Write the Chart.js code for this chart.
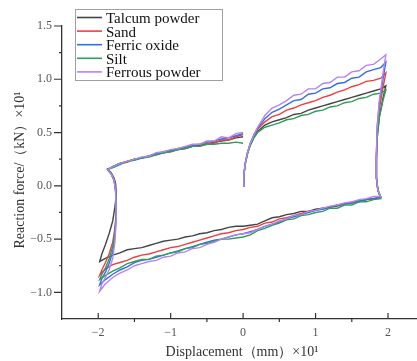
<!DOCTYPE html>
<html>
<head>
<meta charset="utf-8">
<script src="https://cdn.jsdelivr.net/npm/chart.js@4.4.0/dist/chart.umd.min.js"></script>
<style>
html, body { margin: 0; padding: 0; background: #fff; }
#wrap { width: 417px; height: 361px; }
</style>
</head>
<body>
<div id="wrap"><canvas id="chart" width="417" height="361"></canvas></div>
<script>
// displacement path of one cycle (x10 mm)
const dispLoad = [0, 0.01, 0.03, 0.06, 0.1, 0.15, 0.2, 0.3, 0.4, 0.5, 0.6, 0.7, 0.8, 0.9, 1.0, 1.1, 1.2, 1.3, 1.4, 1.5, 1.6, 1.7, 1.8, 1.9, 1.97];
const dispUnload = [1.93, 1.88, 1.85, 1.84, 1.84, 1.86, 1.9];
const dispBottom = [1.8, 1.7, 1.6, 1.5, 1.4, 1.3, 1.2, 1.1, 1.0, 0.9, 0.8, 0.7, 0.6, 0.5, 0.4, 0.3, 0.2, 0.1, 0.0,
    -0.1, -0.2, -0.3, -0.4, -0.5, -0.6, -0.7, -0.8, -0.9, -1.0, -1.1, -1.2, -1.3, -1.4, -1.5, -1.6, -1.7, -1.8, -1.9, -1.98];
const dispRise = [-1.95, -1.9, -1.85, -1.8, -1.77, -1.75, -1.76, -1.78, -1.82, -1.87];
const dispReturn = [-1.8, -1.7, -1.6, -1.5, -1.4, -1.3, -1.2, -1.1, -1.0, -0.9, -0.8, -0.7, -0.6, -0.5, -0.4, -0.3, -0.2, -0.1, 0.0];
const displacement = [].concat(dispLoad, dispUnload, dispBottom, dispRise, dispReturn);

// reaction force (x10 kN), same order as displacement
const talcum = [
    0, 0.10, 0.21, 0.30, 0.39, 0.46, 0.51, 0.57, 0.60, 0.62, 0.64, 0.67, 0.68, 0.71, 0.73, 0.75, 0.77, 0.79, 0.81, 0.83, 0.85, 0.87, 0.89, 0.91, 0.94,
    0.82, 0.65, 0.45, 0.25, 0.07, -0.04, -0.11,
    -0.12, -0.13, -0.15, -0.16, -0.17, -0.19, -0.20, -0.21, -0.22, -0.24, -0.24, -0.26, -0.27, -0.29, -0.30, -0.33, -0.36, -0.37, -0.38,
    -0.38, -0.39, -0.41, -0.42, -0.44, -0.45, -0.47, -0.48, -0.50, -0.51, -0.52, -0.54, -0.56, -0.58, -0.59, -0.60, -0.63, -0.65, -0.68, -0.71,
    -0.64, -0.55, -0.45, -0.33, -0.20, -0.08, 0.02, 0.07, 0.12, 0.15,
    0.18, 0.21, 0.23, 0.25, 0.26, 0.28, 0.30, 0.31, 0.33, 0.34, 0.35, 0.37, 0.38, 0.39, 0.41, 0.42, 0.43, 0.45, 0.46
];
const sand = [
    0, 0.10, 0.21, 0.31, 0.40, 0.47, 0.53, 0.60, 0.65, 0.67, 0.71, 0.73, 0.76, 0.78, 0.80, 0.83, 0.85, 0.88, 0.90, 0.93, 0.95, 0.98, 0.99, 1.01, 1.06,
    0.92, 0.72, 0.50, 0.28, 0.08, -0.04, -0.11,
    -0.12, -0.13, -0.15, -0.16, -0.17, -0.18, -0.20, -0.21, -0.23, -0.24, -0.26, -0.28, -0.30, -0.31, -0.34, -0.35, -0.38, -0.39, -0.41,
    -0.42, -0.44, -0.45, -0.47, -0.49, -0.51, -0.53, -0.55, -0.57, -0.58, -0.60, -0.62, -0.64, -0.65, -0.67, -0.70, -0.72, -0.74, -0.78, -0.84,
    -0.79, -0.72, -0.64, -0.53, -0.40, -0.24, -0.04, 0.05, 0.11, 0.15,
    0.18, 0.21, 0.22, 0.25, 0.26, 0.28, 0.29, 0.31, 0.32, 0.34, 0.35, 0.37, 0.37, 0.40, 0.40, 0.43, 0.43, 0.46, 0.48
];
const ferricOxide = [
    0, 0.10, 0.21, 0.31, 0.40, 0.48, 0.54, 0.63, 0.69, 0.72, 0.76, 0.80, 0.81, 0.86, 0.87, 0.91, 0.92, 0.96, 0.97, 1.01, 1.02, 1.07, 1.09, 1.11, 1.16,
    1.00, 0.78, 0.55, 0.30, 0.08, -0.04, -0.11,
    -0.12, -0.13, -0.14, -0.16, -0.17, -0.18, -0.20, -0.22, -0.23, -0.25, -0.27, -0.29, -0.31, -0.34, -0.36, -0.38, -0.41, -0.43, -0.45,
    -0.46, -0.48, -0.50, -0.51, -0.53, -0.55, -0.57, -0.59, -0.61, -0.63, -0.65, -0.67, -0.69, -0.70, -0.72, -0.76, -0.79, -0.83, -0.88, -0.93,
    -0.87, -0.81, -0.73, -0.62, -0.47, -0.28, -0.05, 0.05, 0.11, 0.15,
    0.18, 0.21, 0.23, 0.25, 0.26, 0.28, 0.30, 0.32, 0.33, 0.35, 0.36, 0.38, 0.39, 0.41, 0.42, 0.44, 0.45, 0.47, 0.49
];
const silt = [
    0, 0.10, 0.21, 0.30, 0.38, 0.45, 0.50, 0.55, 0.57, 0.59, 0.62, 0.63, 0.66, 0.67, 0.70, 0.71, 0.74, 0.75, 0.78, 0.79, 0.82, 0.83, 0.86, 0.87, 0.90,
    0.80, 0.64, 0.45, 0.25, 0.07, -0.04, -0.12,
    -0.13, -0.15, -0.15, -0.18, -0.18, -0.21, -0.21, -0.24, -0.25, -0.27, -0.28, -0.31, -0.32, -0.35, -0.37, -0.40, -0.42, -0.46, -0.48,
    -0.49, -0.50, -0.50, -0.52, -0.54, -0.55, -0.58, -0.59, -0.62, -0.63, -0.65, -0.66, -0.69, -0.69, -0.71, -0.73, -0.77, -0.80, -0.84, -0.88,
    -0.83, -0.77, -0.69, -0.57, -0.43, -0.26, -0.04, 0.05, 0.12, 0.16,
    0.17, 0.20, 0.23, 0.24, 0.26, 0.27, 0.29, 0.31, 0.32, 0.34, 0.35, 0.37, 0.37, 0.39, 0.39, 0.40, 0.40, 0.41, 0.40
];
const ferrousPowder = [
    0, 0.10, 0.21, 0.31, 0.40, 0.48, 0.55, 0.66, 0.73, 0.76, 0.80, 0.85, 0.86, 0.91, 0.91, 0.96, 0.97, 1.02, 1.02, 1.07, 1.08, 1.13, 1.14, 1.19, 1.23,
    1.05, 0.80, 0.55, 0.30, 0.08, -0.04, -0.10,
    -0.10, -0.12, -0.13, -0.15, -0.16, -0.18, -0.19, -0.21, -0.23, -0.24, -0.27, -0.28, -0.31, -0.33, -0.36, -0.38, -0.41, -0.44, -0.45,
    -0.46, -0.48, -0.50, -0.53, -0.55, -0.58, -0.59, -0.62, -0.63, -0.66, -0.67, -0.70, -0.71, -0.73, -0.75, -0.79, -0.82, -0.86, -0.92, -0.99,
    -0.92, -0.86, -0.79, -0.68, -0.53, -0.30, -0.05, 0.05, 0.11, 0.15,
    0.18, 0.21, 0.23, 0.25, 0.27, 0.28, 0.31, 0.32, 0.34, 0.35, 0.37, 0.39, 0.39, 0.42, 0.42, 0.46, 0.45, 0.49, 0.50
];

const seriesNames = ['Talcum powder', 'Sand', 'Ferric oxide', 'Silt', 'Ferrous powder'];
const seriesColors = ['#454545', '#f03e3e', '#2f6fe8', '#2e9e58', '#b683f2'];
const seriesValues = [talcum, sand, ferricOxide, silt, ferrousPowder];

const xTicks = [-2, -1, 0, 1, 2];
const xMinorTicks = [-1.5, -0.5, 0.5, 1.5];
const yTicks = [-1.0, -0.5, 0.0, 0.5, 1.0, 1.5];
const yMinorTicks = [-0.75, -0.25, 0.25, 0.75, 1.25];

const serif = "Liberation Serif";

function minus(v, digits) {
    const s = digits ? Math.abs(v).toFixed(digits) : String(Math.abs(v));
    return (v < 0 ? '\u2212' : '') + s;
}

// axis ticks, titles and boxed legend
const decorPlugin = {
    id: 'decor',
    afterDraw(chart) {
        const ctx = chart.ctx;
        const xs = chart.scales.x, ys = chart.scales.y;
        const left = chart.chartArea.left, bottom = chart.chartArea.bottom;
        ctx.save();
        ctx.strokeStyle = '#333';
        ctx.lineWidth = 1.2;
        ctx.beginPath();
        xTicks.forEach(v => { const p = xs.getPixelForValue(v); ctx.moveTo(p, bottom); ctx.lineTo(p, bottom - 6); });
        xMinorTicks.forEach(v => { const p = xs.getPixelForValue(v); ctx.moveTo(p, bottom); ctx.lineTo(p, bottom + 3); });
        yTicks.forEach(v => { const p = ys.getPixelForValue(v); ctx.moveTo(left, p); ctx.lineTo(left - 8, p); });
        yMinorTicks.forEach(v => { const p = ys.getPixelForValue(v); ctx.moveTo(left, p); ctx.lineTo(left - 3, p); });
        ctx.stroke();

        // axis titles
        ctx.fillStyle = '#333';
        ctx.font = "14px 'Liberation Serif'";
        ctx.textAlign = 'center';
        ctx.textBaseline = 'middle';
        ctx.fillText('Displacement\uff08mm\uff09\u00d710\u00b9', 242, 352);
        ctx.translate(20, 170);
        ctx.rotate(-Math.PI / 2);
        ctx.fillText('Reaction force/\uff08kN\uff09\u00d710\u00b9', 0, 0);
        ctx.restore();

        // legend
        ctx.save();
        ctx.fillStyle = '#fff';
        ctx.fillRect(75.5, 9.5, 147, 71);
        ctx.strokeStyle = '#a0a0a0';
        ctx.lineWidth = 1;
        ctx.strokeRect(75.5, 9.5, 147, 71);
        ctx.font = "15px 'Liberation Serif'";
        ctx.textAlign = 'left';
        ctx.textBaseline = 'middle';
        seriesNames.forEach((name, i) => {
            const y = 17.5 + i * 13.6;
            ctx.strokeStyle = seriesColors[i];
            ctx.lineWidth = 1.6;
            ctx.beginPath();
            ctx.moveTo(77, y);
            ctx.lineTo(102, y);
            ctx.stroke();
            ctx.fillStyle = '#111';
            ctx.fillText(name, 106, y + 1.5);
        });
        ctx.restore();
    }
};

new Chart(document.getElementById('chart'), {
    type: 'scatter',
    data: {
        datasets: seriesNames.map((name, i) => ({
            label: name,
            data: displacement.map((x, j) => ({ x: x, y: seriesValues[i][j] })),
            borderColor: seriesColors[i],
            backgroundColor: seriesColors[i],
            borderWidth: 1.4,
            showLine: true,
            pointRadius: 0,
            tension: 0,
            order: seriesNames.length - i
        }))
    },
    options: {
        responsive: false,
        animation: false,
        layout: { padding: { top: 26, right: 0, left: 0, bottom: 0 } },
        plugins: { legend: { display: false }, tooltip: { enabled: false } },
        scales: {
            x: {
                type: 'linear',
                min: -2.5,
                max: 2.4,
                afterFit: s => { s.height = 42; },
                afterBuildTicks: s => { s.ticks = xTicks.map(v => ({ value: v })); },
                grid: { display: false, drawTicks: false },
                border: { display: true, color: '#333', width: 1.3 },
                ticks: {
                    padding: 7,
                    color: '#555',
                    font: { family: serif, size: 12 },
                    callback: v => minus(v, 0)
                }
            },
            y: {
                min: -1.25,
                max: 1.5,
                afterFit: s => { s.width = 62; },
                afterBuildTicks: s => { s.ticks = yTicks.map(v => ({ value: v })); },
                grid: { display: false, drawTicks: false },
                border: { display: true, color: '#333', width: 1.3 },
                ticks: {
                    padding: 10,
                    color: '#555',
                    font: { family: serif, size: 12 },
                    callback: v => minus(v, 1)
                }
            }
        }
    },
    plugins: [decorPlugin]
});
</script>
</body>
</html>
